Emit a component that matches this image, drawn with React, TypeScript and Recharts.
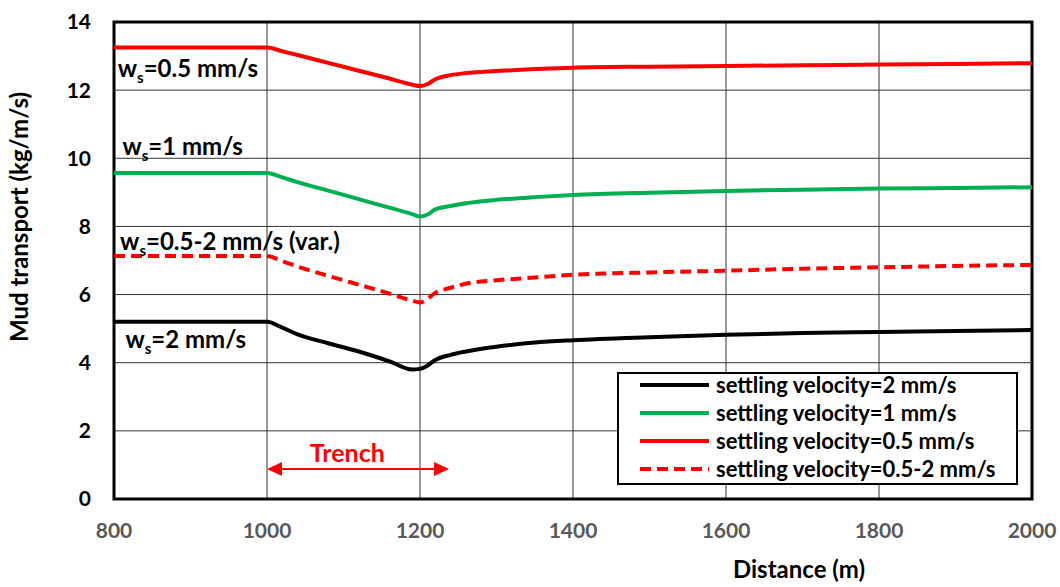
import React from "react";
import {
  LineChart, Line, XAxis, YAxis, CartesianGrid, ReferenceArea, ReferenceDot, ReferenceLine,
} from "recharts";

// distance along the profile (m)
const distance = [800, 1000, 1020, 1040, 1080, 1120, 1160, 1190, 1200, 1210, 1220, 1240, 1260, 1300, 1350, 1400, 1500, 1600, 1700, 1800, 1900, 2000];

// mud transport (kg/m/s) per settling velocity
const ws2 = [5.2, 5.2, 5.03, 4.83, 4.57, 4.33, 4.04, 3.8, 3.82, 3.92, 4.08, 4.23, 4.33, 4.47, 4.59, 4.66, 4.75, 4.82, 4.87, 4.9, 4.93, 4.96];
const ws1 = [9.57, 9.57, 9.44, 9.3, 9.05, 8.8, 8.55, 8.36, 8.29, 8.35, 8.5, 8.6, 8.68, 8.78, 8.86, 8.92, 8.99, 9.04, 9.08, 9.11, 9.13, 9.15];
const ws05 = [13.25, 13.25, 13.14, 13.03, 12.8, 12.57, 12.34, 12.16, 12.12, 12.18, 12.32, 12.44, 12.5, 12.56, 12.62, 12.66, 12.69, 12.71, 12.73, 12.75, 12.77, 12.79];
const wsVar = [7.13, 7.13, 6.98, 6.82, 6.55, 6.29, 6.03, 5.82, 5.77, 5.88, 6.05, 6.2, 6.32, 6.42, 6.5, 6.58, 6.65, 6.7, 6.76, 6.8, 6.84, 6.87];

const xTicks = [800, 1000, 1200, 1400, 1600, 1800, 2000];
const yTicks = [0, 2, 4, 6, 8, 10, 12, 14];

const series = [
  { key: "ws2", name: "settling velocity=2 mm/s", color: "#000000", dash: undefined },
  { key: "ws1", name: "settling velocity=1 mm/s", color: "#00B050", dash: undefined },
  { key: "ws05", name: "settling velocity=0.5 mm/s", color: "#FF0000", dash: undefined },
  { key: "wsVar", name: "settling velocity=0.5-2 mm/s", color: "#FF0000", dash: "11 6" },
];

// curve labels: [x, y, rest of text after "w_s"]
const curveLabels: [number, number, string][] = [
  [805, 12.39, "=0.5 mm/s"],
  [811, 10.1, "=1 mm/s"],
  [808, 7.31, "=0.5-2 mm/s (var.)"],
  [815, 4.43, "=2 mm/s"],
];

const data = distance.map((d, i) => ({
  d, ws2: ws2[i], ws1: ws1[i], ws05: ws05[i], wsVar: wsVar[i],
}));

const FONT = "Lato, 'Open Sans', sans-serif";

const WsLabel = (rest: string) => (props: any) => (
  <text x={props.cx} y={props.cy} fontSize={24} fontWeight={700} fill="#000" fontFamily={FONT}>
    w<tspan fontSize={15} dy={6}>s</tspan><tspan dy={-6}>{rest}</tspan>
  </text>
);

const TrenchArrow = (props: any) => {
  const { x1, y1, x2, y2 } = props;
  const h = 15;
  return (
    <g>
      <line x1={x1 + h} y1={y1} x2={x2 - h} y2={y2} stroke="#FF0000" strokeWidth={2} />
      <polygon points={`${x1},${y1} ${x1 + h},${y1 - 7} ${x1 + h},${y1 + 7}`} fill="#FF0000" />
      <polygon points={`${x2},${y2} ${x2 - h},${y2 - 7} ${x2 - h},${y2 + 7}`} fill="#FF0000" />
    </g>
  );
};

const LegendBox = () => (
  <div
    style={{
      position: "absolute", left: 617, top: 372, width: 397, height: 109,
      border: "2px solid #000", background: "#fff", fontFamily: FONT,
    }}
  >
    <div style={{ position: "relative", top: -3 }}>
      {series.map((s) => (
        <div key={s.key} style={{ display: "flex", alignItems: "center", height: 28 }}>
          <svg width={92} height={28} style={{ flex: "none" }}>
            <line x1={21} y1={14} x2={90} y2={14} stroke={s.color} strokeWidth={4} strokeDasharray={s.dash} />
          </svg>
          <span style={{ fontSize: 22, fontWeight: 700, marginLeft: 5, color: "#000", whiteSpace: "nowrap", lineHeight: "28px" }}>{s.name}</span>
        </div>
      ))}
    </div>
  </div>
);

export default function App() {
  return (
    <div style={{ position: "absolute", left: 0, top: 0, width: 1060, height: 587, background: "#fff", fontFamily: FONT }}>
      <LineChart width={1060} height={587} data={data} margin={{ top: 22, right: 28, bottom: 48, left: 54 }}>
        <CartesianGrid stroke="#333333" strokeWidth={1} horizontal vertical />
        <XAxis
          dataKey="d" type="number" domain={[800, 2000]} ticks={xTicks} height={40}
          axisLine={false} tickLine={false} tickMargin={18}
          tick={{ fill: "#595959", fontSize: 21, fontWeight: 700, fontFamily: FONT }}
        />
        <YAxis
          type="number" domain={[0, 14]} ticks={yTicks} width={60}
          axisLine={false} tickLine={false} tickMargin={17}
          tick={{ fill: "#000", fontSize: 21, fontWeight: 700, fontFamily: FONT }}
        />
        {series.map((s) => (
          <Line
            key={s.key} dataKey={s.key} name={s.name} type="monotone" stroke={s.color}
            strokeWidth={4} strokeDasharray={s.dash} dot={false} activeDot={false} isAnimationActive={false}
          />
        ))}
        <ReferenceArea
          x1={800} x2={2000} y1={0} y2={14} ifOverflow="visible"
          fill="none" fillOpacity={0} stroke="#000" strokeWidth={3}
        />
        {curveLabels.map(([x, y, t]) => (
          <ReferenceDot key={t} x={x} y={y} r={0} shape={WsLabel(t)} />
        ))}
        <ReferenceLine segment={[{ x: 1000, y: 0.88 }, { x: 1238, y: 0.88 }]} shape={TrenchArrow} />
        <ReferenceDot
          x={1105} y={1.1} r={0}
          shape={(p: any) => (
            <text x={p.cx} y={p.cy} textAnchor="middle" fontSize={25} fontWeight={700} fill="#FF0000" fontFamily={FONT}>Trench</text>
          )}
        />
        <text x={22} y={217} transform="rotate(-90 22 217)" textAnchor="middle" dominantBaseline="middle" fontSize={24} fontWeight={700} fill="#000" fontFamily={FONT}>
          Mud transport (kg/m/s)
        </text>
        <text x={799} y={572} textAnchor="middle" dominantBaseline="middle" fontSize={24} fontWeight={700} fill="#000" fontFamily={FONT}>
          Distance (m)
        </text>
      </LineChart>
      <LegendBox />
    </div>
  );
}
